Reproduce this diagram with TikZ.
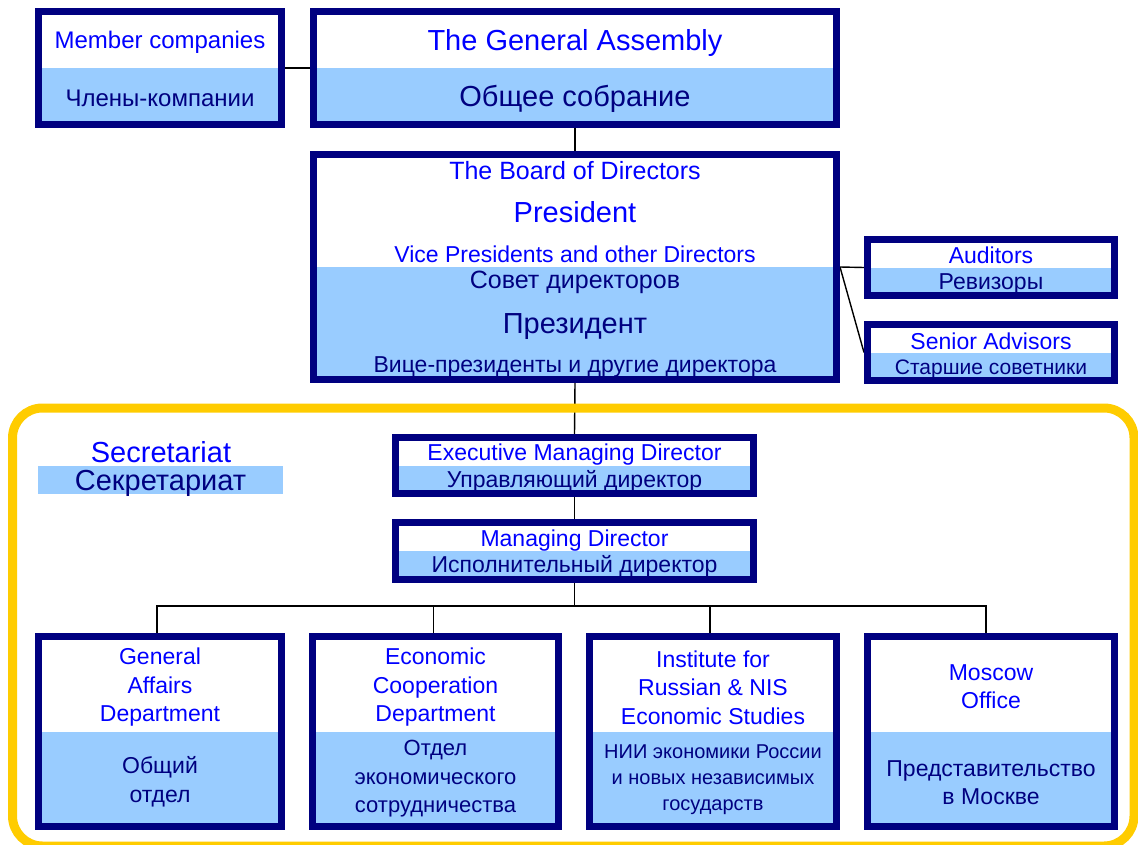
\documentclass[tikz,border=0pt]{standalone}
\usepackage{fontspec}
\setmainfont{Liberation Sans}
\definecolor{navy}{HTML}{000080}
\definecolor{lblue}{HTML}{99CCFF}
\definecolor{eng}{HTML}{0000FF}
\definecolor{gold}{HTML}{FFCC00}
\newcommand\setfs[2]{\fontsize{#1}{#2}\selectfont}
\pgfdeclarelayer{bg}
\pgfsetlayers{bg,main}
\tikzset{
  orgbox/.style={draw=navy, line width=7pt, fill=white, inner sep=0pt,
    path picture={\fill[lblue] (path picture bounding box.west) rectangle (path picture bounding box.south east);}},
  en/.style={text=eng, inner sep=0pt, align=center, yshift=-2.5pt},
  ru/.style={text=navy, inner sep=0pt, align=center, yshift=-2.5pt},
  link/.style={draw=black, line width=1.4pt},
  frame/.style={draw=gold, line width=9pt, rounded corners=30pt},
  secbar/.style={fill=lblue, inner sep=0pt, minimum width=245pt, minimum height=28pt},
  captext/.style={inner sep=0pt, anchor=base, text height=21pt, text depth=0pt},
}
\begin{document}
\begin{tikzpicture}[x=1pt,y=-1pt]
\useasboundingbox (0,0) rectangle (1138,845);
% secretariat frame
\draw[frame] (12.5,408) rectangle (1134,846);
% boxes
\node[orgbox, minimum width=243pt, minimum height=113pt] (mem) at (160,68) {};
\node[orgbox, minimum width=523pt, minimum height=113pt] (ga) at (575,68) {};
\node[orgbox, minimum width=523pt, minimum height=225pt] (bod) at (575,267) {};
\node[orgbox, minimum width=247pt, minimum height=56pt] (aud) at (991,267.5) {};
\node[orgbox, minimum width=247pt, minimum height=56pt] (sen) at (991,352.5) {};
\node[orgbox, minimum width=358pt, minimum height=56pt] (emd) at (574.5,465.5) {};
\node[orgbox, minimum width=358pt, minimum height=57pt] (md) at (574.5,551) {};
\node[orgbox, minimum width=243pt, minimum height=190pt] (d1) at (160,731.5) {};
\node[orgbox, minimum width=246pt, minimum height=190pt] (d2) at (435.5,731.5) {};
\node[orgbox, minimum width=247pt, minimum height=190pt] (d3) at (713,731.5) {};
\node[orgbox, minimum width=247pt, minimum height=190pt] (d4) at (991,731.5) {};
\node[secbar] (secBar) at (160.5,480) {};
% texts
\node[en, font=\setfs{24}{28}] (memEn) at (160,40) {Member companies};
\node[ru, font=\setfs{24}{28}] (memRu) at (160,96) {Члены-компании};
\node[en, font=\setfs{29}{34}] (gaEn) at (575,41) {The General Assembly};
\node[ru, font=\setfs{29}{34}] (gaRu) at (575,96) {Общее собрание};
\node[en, font=\setfs{25}{30}] (bodEn1) at (575,168) {The Board of Directors};
\node[en, font=\setfs{29}{34}] (bodEn2) at (575,210) {President};
\node[en, font=\setfs{23}{28}] (bodEn3) at (575,252) {Vice Presidents and other Directors};
\node[ru, font=\setfs{25}{30}] (bodRu1) at (575,280) {Совет директоров};
\node[ru, font=\setfs{29}{34}] (bodRu2) at (575,324) {Президент};
\node[ru, font=\setfs{23}{28}] (bodRu3) at (575,364) {Вице-президенты и другие директора};
\node[en, font=\setfs{23}{28}] (audEn) at (991,253) {Auditors};
\node[ru, font=\setfs{23}{28}] (audRu) at (991,281) {Ревизоры};
\node[en, font=\setfs{23}{28}] (senEn) at (991,339) {Senior Advisors};
\node[ru, font=\setfs{21}{26}] (senRu) at (991,367) {Старшие советники};
\node[captext, text=eng, font=\setfs{29}{34}] (secEn) at (161,462) {Secretariat};
\node[captext, text=navy, font=\setfs{29}{34}] (secRu) at (160.5,490) {Секретариат};
\node[en, font=\setfs{23}{28}] (emdEn) at (574.5,452) {Executive Managing Director};
\node[ru, font=\setfs{23}{28}] (emdRu) at (574.5,479) {Управляющий директор};
\node[en, font=\setfs{23}{28}] (mdEn) at (574.5,538) {Managing Director};
\node[ru, font=\setfs{23}{28}] (mdRu) at (574.5,564) {Исполнительный директор};
\node[en, font=\setfs{23}{28.5}] (d1En) at (160,685) {General\\Affairs\\Department};
\node[ru, font=\setfs{23}{28.5}] (d1Ru) at (160,779.5) {Общий\\отдел};
\node[en, font=\setfs{23}{28.5}] (d2En) at (435.5,685) {Economic\\Cooperation\\Department};
\node[ru, font=\setfs{22}{28.5}] (d2Ru) at (435.5,776.5) {Отдел\\экономического\\сотрудничества};
\node[en, font=\setfs{23}{28.5}] (d3En) at (713,685) {Institute for\\Russian \& NIS\\Economic Studies};
\node[ru, font=\setfs{20}{26}] (d3Ru) at (713,777) {НИИ экономики России\\и новых независимых\\государств};
\node[en, font=\setfs{23}{28.5}] (d4En) at (991,684) {Moscow\\Office};
\node[ru, font=\setfs{23}{28.5}] (d4Ru) at (991,780) {Представительство\\в Москве};
% connectors
\coordinate (bus) at (574.5,606);
\begin{pgfonlayer}{bg}
\draw[link] (mem.east) -- (ga.west);
\draw[link] (ga.south) -- (bod.north);
\draw[link] (aud.west) -- (bod.east) -- (sen.west);
\draw[link] (bod.south) -- (emd.north);
\draw[link] (emd.south) -- (md.north);
\draw[link] (md.south) -- (bus);
\draw[link] ([xshift=-3pt]d1.north) |- (bus) -| ([xshift=-5pt]d4.north);
\draw[link] ([xshift=-2pt]d2.north) -- ([xshift=-2pt]d2.north |- bus);
\draw[link] ([xshift=-3pt]d3.north) -- ([xshift=-3pt]d3.north |- bus);
\end{pgfonlayer}
\end{tikzpicture}
\end{document}
